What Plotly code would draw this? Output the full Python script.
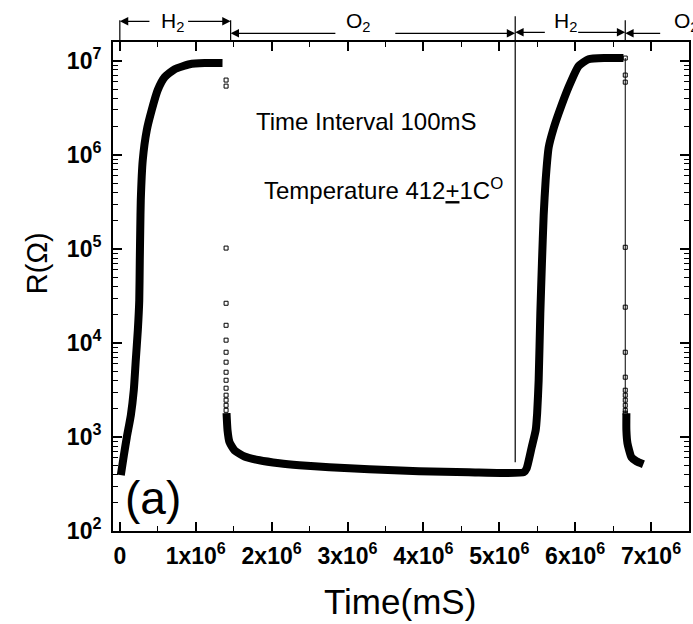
import numpy as np
import plotly.graph_objects as go

# ---------------- data (time in units of 10^6 mS, resistance in Ohm) ----------------
h2_rise1_t = [0.013, 0.053, 0.092, 0.145, 0.184, 0.210, 0.237, 0.256, 0.263, 0.269,
              0.276, 0.302, 0.355, 0.420, 0.499, 0.591, 0.723, 0.920, 1.117, 1.353]
h2_rise1_r = [392, 638, 993, 1700, 3140, 6550, 13650, 28400, 75800, 158000,
              330000, 879000, 1.83e6, 2.99e6, 4.88e6, 6.7e6, 8.15e6, 9.2e6, 9.46e6, 9.46e6]

drop1_t = [1.40] * 15
drop1_r = [6.24e6, 5.38e6, 1.02e5, 2.64e4, 1.54e4, 1.07e4, 7960, 6240, 4880, 4010,
           3300, 2780, 2460, 2170, 1920]

o2_t = [1.406, 1.419, 1.445, 1.511, 1.643, 1.840, 2.102, 2.365, 2.760, 3.285,
        3.942, 4.599, 5.322]
o2_r = [1790, 1180, 880, 720, 620, 565, 525, 500, 476, 453, 432, 421, 421]

h2_rise2_t = [5.361, 5.427, 5.480, 5.499, 5.519, 5.541, 5.562, 5.585, 5.611, 5.651,
              5.716, 5.782, 5.913, 6.045, 6.176, 6.399, 6.636]
h2_rise2_r = [464, 776, 1180, 1790, 4010, 20700, 70500, 229000, 538000, 1.2e6,
              1.91e6, 2.76e6, 5.25e6, 8.8e6, 1.04e7, 1.07e7, 1.07e7]

drop2_t = [6.66] * 13
drop2_r = [1.07e7, 7.05e6, 5.93e6, 1.04e5, 2.4e4, 7960, 4320, 3140, 2780, 2460,
           2170, 1920, 1790]

o2_final_t = [6.675, 6.675, 6.689, 6.741, 6.807, 6.899]
o2_final_r = [1790, 1180, 857, 608, 552, 513]

# gas switching boundaries (10^6 mS)
phase_bounds = [0.0, 1.46, 5.21, 6.66]
phase_labels = ["H<sub>2</sub>", "O<sub>2</sub>", "H<sub>2</sub>", "O<sub>2</sub>"]
phase_label_x = [0.70, 3.15, 5.87, 7.27]

x_tick_vals = [0, 1, 2, 3, 4, 5, 6, 7]
x_tick_text = ["<b>0</b>"] + ["<b>%dx10<sup>6</sup></b>" % i for i in range(1, 8)]
y_decades = [2, 3, 4, 5, 6, 7]
y_tick_text = ["<b>10<sup>%d</sup></b>" % d for d in y_decades]

M = 1e6
FONT = "Liberation Sans, Arial, sans-serif"

fig = go.Figure()

thick = dict(color="black", width=8, shape="spline", smoothing=0.5)
fig.add_trace(go.Scatter(x=np.array(h2_rise1_t) * M, y=h2_rise1_r, mode="lines",
                         line=thick, showlegend=False))
fig.add_trace(go.Scatter(x=np.array(drop1_t) * M, y=drop1_r, mode="markers",
                         marker=dict(symbol="square-open", size=4, color="black",
                                     line=dict(width=1)), showlegend=False))
fig.add_trace(go.Scatter(x=np.array(o2_t + h2_rise2_t) * M, y=o2_r + h2_rise2_r,
                         mode="lines", line=thick, showlegend=False))
fig.add_trace(go.Scatter(x=np.array(drop2_t) * M, y=drop2_r, mode="lines+markers",
                         line=dict(color="black", width=1),
                         marker=dict(symbol="square-open", size=4, color="black",
                                     line=dict(width=1)), showlegend=False))
fig.add_trace(go.Scatter(x=np.array(o2_final_t) * M, y=o2_final_r, mode="lines",
                         line=thick, showlegend=False))

# plot geometry helpers (pixels -> paper)
PT, PB = 41.7, 530.7
PL, PW = 113.3, 577.4
def py(p):
    return (PB - p) / (PB - PT)
def px(p):
    return (p - PL) / PW

# vertical boundary lines
shapes = []
for i, b in enumerate(phase_bounds):
    if i == 2:
        y0, y1 = py(462), py(16)
    else:
        y0, y1 = 1.0, py(20)
    shapes.append(dict(type="line", xref="x", yref="paper", x0=b * M, x1=b * M,
                       y0=y0, y1=y1, line=dict(color="black", width=1.2)))

annotations = []
# arrows: (tip, tail, ypix)
arrows = [(0.0, 0.41, 21), (1.46, 0.88, 21),
          (1.46, 2.86, 33), (5.21, 3.61, 33),
          (5.21, 5.62, 32), (6.66, 6.02, 32),
          (6.66, 7.14, 33)]
for tip, tail, yp in arrows:
    annotations.append(dict(x=tip * M, ax=tail * M, xref="x", axref="x",
                            y=py(yp), yref="paper", ay=0, ayref="pixel",
                            text="", showarrow=True, arrowhead=2, arrowsize=1.4,
                            arrowwidth=1.2, arrowcolor="black", standoff=0,
                            startstandoff=0))
for lab, lx, i in zip(phase_labels, phase_label_x, range(4)):
    annotations.append(dict(x=lx * M, xref="x", y=py(22), yref="paper",
                            text=lab, showarrow=False,
                            xanchor="left" if i == 3 else "center", yanchor="middle",
                            font=dict(family=FONT, size=21, color="black")))

def txt(x, y, text, size, angle=0):
    return dict(x=x, y=y, xref="paper", yref="paper", text=text, showarrow=False,
                xanchor="center", yanchor="middle", textangle=angle,
                font=dict(family=FONT, size=size, color="black"))

annotations += [
    txt(px(367), py(121), "Time Interval 100mS", 24),
    txt(px(384), py(189), "Temperature 412<u>+</u>1C<sup>O</sup>", 24),
    txt(px(153), py(498), "(a)", 46),
    txt(px(401), py(601), "Time(mS)", 35),
    txt(px(37), py(263), "R(Ω)", 29, -90),
]

x_minor = [i + 0.5 for i in range(-1, 8)]
y_minor = [m * 10 ** d for d in range(1, 8) for m in range(2, 10)]

fig.update_layout(
    width=693, height=624,
    margin=dict(l=113, r=2, t=42, b=93),
    paper_bgcolor="white", plot_bgcolor="white",
    shapes=shapes, annotations=annotations,
    xaxis=dict(range=[-0.09 * M, 7.5 * M], showgrid=False, zeroline=False,
               showline=True, linecolor="black", linewidth=2, mirror="allticks",
               ticks="inside", ticklen=9, tickwidth=1.5, tickcolor="black",
               tickvals=[v * M for v in x_tick_vals], ticktext=x_tick_text,
               tickfont=dict(family=FONT, size=23, color="black"),
               ticklabelstandoff=3,
               minor=dict(tickvals=[v * M for v in x_minor], ticks="inside",
                          ticklen=5, tickwidth=1.2, tickcolor="black", showgrid=False)),
    yaxis=dict(type="log", range=[2, 7.2], showgrid=False, zeroline=False,
               showline=True, linecolor="black", linewidth=2, mirror="allticks",
               ticks="inside", ticklen=9, tickwidth=1.5, tickcolor="black",
               tickvals=[10 ** d for d in y_decades], ticktext=y_tick_text,
               tickfont=dict(family=FONT, size=23, color="black"),
               ticklabelstandoff=5,
               minor=dict(tickvals=y_minor, ticks="inside", ticklen=5,
                          tickwidth=1.2, tickcolor="black", showgrid=False)),
)

fig.write_html("out.html")
